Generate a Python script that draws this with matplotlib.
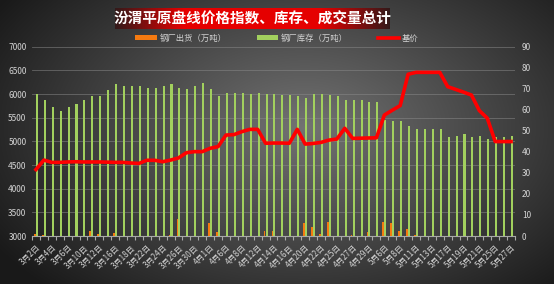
import matplotlib
matplotlib.use("Agg")
import matplotlib.pyplot as plt
import numpy as np

plt.rcParams['font.family'] = ['Noto Sans CJK SC', 'DejaVu Sans']

dates = ["3月2日", "3月3日", "3月4日", "3月5日", "3月6日", "3月9日", "3月10日", "3月11日",
         "3月12日", "3月13日", "3月16日", "3月17日", "3月18日", "3月19日", "3月22日", "3月23日",
         "3月24日", "3月25日", "3月26日", "3月27日", "3月30日", "3月31日", "4月1日", "4月2日",
         "4月6日", "4月7日", "4月8日", "4月9日", "4月12日", "4月13日", "4月14日", "4月15日",
         "4月16日", "4月17日", "4月20日", "4月21日", "4月22日", "4月23日", "4月25日", "4月26日",
         "4月27日", "4月28日", "4月29日", "4月30日", "5月6日", "5月7日", "5月8日", "5月9日",
         "5月11日", "5月12日", "5月13日", "5月14日", "5月17日", "5月18日", "5月19日", "5月20日",
         "5月21日", "5月24日", "5月25日", "5月26日", "5月27日"]

stock = [6000, 5870, 5727, 5643, 5727, 5790, 5875, 5960, 5960, 6085, 6210, 6170, 6180,
         6180, 6128, 6128, 6170, 6210, 6130, 6110, 6170, 6234, 6108, 5960, 6030, 6023,
         6030, 6000, 6015, 6000, 6000, 5980, 5980, 5960, 5910, 6000, 6000, 5980, 5960,
         5875, 5875, 5875, 5833, 5833, 5447, 5425, 5425, 5327, 5263, 5263, 5256, 5270,
         5100, 5115, 5150, 5094, 5115, 5058, 5094, 5094, 5108]

ship = [3045, 3030, 3000, 3000, 3000, 3000, 3000, 3110, 3050, 3000, 3055, 3010, 3000,
        3000, 3000, 3000, 3000, 3030, 3360, 3010, 3010, 3010, 3280, 3085, 3010, 3010,
        3000, 3000, 3000, 3112, 3098, 3000, 3000, 3010, 3280, 3183, 3045, 3305, 3010,
        3000, 3025, 3000, 3088, 3000, 3295, 3265, 3105, 3158, 3030, 3000, 3000, 3000,
        3000, 3000, 3000, 3000, 3000, 3000, 3000, 3000, 3010]

price = [31.6, 36.1, 35.0, 35.0, 35.2, 35.3, 35.2, 35.2, 35.2, 35.1, 35.0, 35.0, 34.7,
         34.5, 36.0, 36.0, 35.3, 36.1, 37.1, 39.6, 40.1, 40.1, 41.7, 42.5, 48.0, 48.2,
         49.6, 50.7, 50.7, 44.1, 44.2, 44.2, 44.1, 50.7, 43.7, 44.0, 44.5, 45.6, 46.1,
         51.2, 46.4, 46.5, 46.6, 46.7, 57.5, 59.8, 62.0, 76.9, 77.8, 77.8, 77.8, 77.8,
         71.0, 69.7, 68.4, 67.0, 59.6, 56.0, 44.9, 44.9, 44.9]

title = "汾渭平原盘线价格指数、库存、成交量总计"
txt_col = "#d4d4d4"

fig = plt.figure(figsize=(5.54, 2.84), dpi=100)

# radial dark-gray background
bg = fig.add_axes([0, 0, 1, 1], zorder=-10)
yy, xx = np.mgrid[0:1:284j, 0:1:554j]
r = np.sqrt(((xx - 0.55) / 0.62) ** 2 + ((yy - 0.45) / 0.75) ** 2)
shade = np.clip(0.45 - 0.33 * r, 0.1, 0.45)
bg.imshow(np.dstack([shade] * 3), aspect="auto", extent=[0, 1, 0, 1])
bg.set_axis_off()

# title box with red gradient
tb = fig.add_axes([115 / 554, 1 - 29 / 284, 275 / 554, 21 / 284], zorder=5)
t = np.linspace(0, 1, 300)
red = np.interp(t, [0, 0.25, 0.75, 1], [0.2, 0.9, 0.9, 0.2])
g = np.interp(t, [0, 0.25, 0.75, 1], [0.1, 0.0, 0.0, 0.1])
grad = np.dstack([red, g, g]).repeat(4, axis=0)
tb.imshow(grad, aspect="auto", extent=[0, 1, 0, 1])
tb.text(0.5, 0.47, title, color="white", fontsize=10.5, fontweight="bold",
        ha="center", va="center")
tb.set_axis_off()

ax = fig.add_axes([32 / 554, 1 - 236 / 284, 483 / 554, 189.3 / 284])
ax.set_facecolor("none")
x = np.arange(len(dates))
b1 = ax.bar(x - 0.14, ship, width=0.22, bottom=0, color="#f57a10", zorder=4,
            label="钢厂出货（万吨）")
b2 = ax.bar(x + 0.12, stock, width=0.26, color="#a2d05e", zorder=3,
            label="钢厂库存（万吨）")
ax.set_ylim(3000, 7000)
ax.set_xlim(-0.5, len(dates) - 0.5)
ax.set_yticks(np.arange(3000, 7001, 500))
ax.grid(axis="y", color="#8a8a8a", linewidth=0.6, alpha=0.6, zorder=0)
for s in ["top", "right", "left"]:
    ax.spines[s].set_visible(False)
ax.spines["bottom"].set_color("#a8a8a8")
ax.spines["bottom"].set_linewidth(0.8)
ax.tick_params(axis="y", length=0, labelsize=6, labelcolor=txt_col, pad=4)
ax.set_xticks(x[::2])
ax.set_xticklabels(dates[::2], rotation=45, ha="right", rotation_mode="anchor",
                   fontsize=5.8, color=txt_col)
ax.tick_params(axis="x", which="major", length=0, pad=5)
ax.set_xticks(np.arange(-0.5, len(dates), 1), minor=True)
ax.tick_params(axis="x", which="minor", length=3, color="#a8a8a8", width=0.8)

ax2 = ax.twinx()
ln, = ax2.plot(x, price, color="#ff0000", linewidth=2.6, label="基价", zorder=5)
ax2.set_ylim(0, 90)
ax2.set_yticks(np.arange(0, 91, 10))
for s in ax2.spines.values():
    s.set_visible(False)
ax2.tick_params(axis="y", length=0, labelsize=6, labelcolor=txt_col, pad=5)

fig.legend([b1, b2, ln], ["钢厂出货（万吨）", "钢厂库存（万吨）", "基价"],
           loc="center", bbox_to_anchor=(0.5, 1 - 38 / 284), ncol=3,
           frameon=False, fontsize=6, labelcolor=txt_col, handlelength=2.6,
           handleheight=0.5, columnspacing=3.6, handletextpad=0.3)

fig.savefig("out.png", dpi=100)
